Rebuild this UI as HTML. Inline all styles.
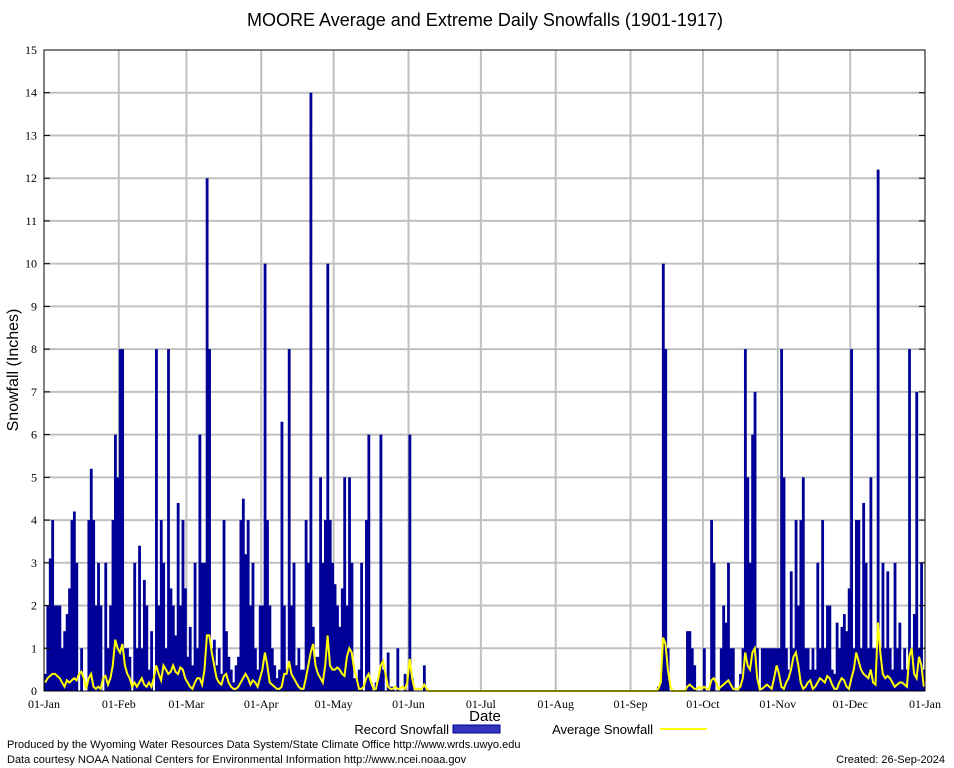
<!DOCTYPE html>
<html><head><meta charset="utf-8"><style>
body{margin:0;background:#fff;width:954px;height:768px;overflow:hidden}
svg{display:block}
text{font-family:"Liberation Sans",sans-serif}
.t{font-family:"Liberation Serif",serif;font-size:12px}
</style></head><body>
<svg id="c" width="954" height="768"></svg>
<script>
const monthLabels=["01-Jan","01-Feb","01-Mar","01-Apr","01-May","01-Jun","01-Jul","01-Aug","01-Sep","01-Oct","01-Nov","01-Dec","01-Jan"];
const monthStartDays=[0,31,59,90,120,151,181,212,243,273,304,334,365];
const yTicks=[0,1,2,3,4,5,6,7,8,9,10,11,12,13,14,15];
const recordJan=[0.4,2,3.1,4,2,2,2,1,1.4,1.8,2.4,4,4.2,3,0,1,0,0,4,5.2,4,2,3,2,0,3,1,2,4,6,5];
const recordFeb=[8,8,1,1,0.8,0,3,1,3.4,1,2.6,2,0.5,1.4,0,8,2,4,3,1,8,2.4,2,1.3,4.4,2,4,2.4];
const recordMar=[0.8,1.5,0.6,3,1,6,3,3,12,8,1,1.2,0.6,1,0.4,4,1.4,0.8,0.5,0.2,0.6,0.8,4,4.5,3.2,4,2,3,1,0.5,2];
const recordApr=[2,10,4,2,1,0.6,0.3,0.5,6.3,2,0.5,8,2,3,0.6,1,0.5,0.5,4,3,14,1.5,0.8,0.8,5,3,4,10,4,3];
const recordMay=[2.5,2,1.5,2.4,5,2,5,3,0.3,0.3,0.5,3,0,4,6,0.2,0,0.2,0.3,6,0.5,0,0.9,0.1,0.1,0,1,0,0,0.4,0];
const recordJun=[6,0.3,0,0,0,0,0.6,0,0,0,0,0,0,0,0,0,0,0,0,0,0,0,0,0,0,0,0,0,0,0];
const recordJul=[0,0,0,0,0,0,0,0,0,0,0,0,0,0,0,0,0,0,0,0,0,0,0,0,0,0,0,0,0,0,0];
const recordAug=[0,0,0,0,0,0,0,0,0,0,0,0,0,0,0,0,0,0,0,0,0,0,0,0,0,0,0,0,0,0,0];
const recordSep=[0,0,0,0,0,0,0,0,0,0,0,0.1,0.2,10,8,1,0,0,0,0,0,0,0,1.4,1.4,1,0.6,0,0,0];
const recordOct=[1,0,0,4,3,0,0,1,2,1.6,3,1,1,0,0,0.4,1,8,5,3,6,7,1,0,1,1,1,1,1,1,1];
const recordNov=[1,8,5,1,0.5,2.8,1,4,2,4,5,1,1,0.5,1,0.5,3,1,4,1,2,2,0.5,0.4,1.6,1,1.5,1.8,1.4,2.4];
const recordDec=[8,1,4,4,1,4.4,3,1,5,1,1,12.2,1,3,1,2.8,1,0.5,3,1,1.6,0.5,1,0.5,8,1,1.8,7,1,3,0.5];
const avgJan=[0.2,0.3,0.35,0.4,0.4,0.35,0.3,0.2,0.1,0.25,0.2,0.25,0.3,0.25,0.4,0.45,0.3,0.05,0.3,0.4,0.1,0.05,0.1,0.05,0.3,0.35,0.15,0.3,0.6,1.2,1.0];
const avgFeb=[0.9,1.1,0.6,0.4,0.3,0.1,0.2,0.1,0.2,0.3,0.15,0.1,0.2,0.1,0.3,0.6,0.4,0.25,0.6,0.5,0.4,0.45,0.6,0.45,0.4,0.55,0.5,0.3];
const avgMar=[0.2,0.1,0.05,0.2,0.3,0.3,0.15,0.5,1.3,1.3,0.9,0.6,0.3,0.2,0.15,0.35,0.4,0.2,0.1,0.05,0.05,0.1,0.2,0.3,0.4,0.3,0.15,0.25,0.2,0.1,0.3];
const avgApr=[0.5,0.9,0.6,0.2,0.15,0.1,0.05,0.05,0.1,0.4,0.4,0.7,0.4,0.3,0.2,0.1,0.05,0.05,0.3,0.6,0.9,1.1,0.6,0.4,0.3,0.2,0.6,1.3,0.6,0.5];
const avgMay=[0.5,0.55,0.5,0.4,0.35,0.8,1.0,0.9,0.5,0.3,0.05,0.05,0.1,0.3,0.4,0.2,0.05,0.05,0.3,0.6,0.7,0.4,0.1,0.05,0.05,0.1,0.05,0.05,0.1,0.05,0.2];
const avgJun=[0.75,0.3,0.05,0.05,0.05,0.05,0.15,0.05,0,0,0,0,0,0,0,0,0,0,0,0,0,0,0,0,0,0,0,0,0,0];
const avgJul=[0,0,0,0,0,0,0,0,0,0,0,0,0,0,0,0,0,0,0,0,0,0,0,0,0,0,0,0,0,0,0];
const avgAug=[0,0,0,0,0,0,0,0,0,0,0,0,0,0,0,0,0,0,0,0,0,0,0,0,0,0,0,0,0,0,0];
const avgSep=[0,0,0,0,0,0,0,0,0,0,0,0.05,0.2,1.25,1.1,0.5,0.1,0,0,0,0,0,0,0.1,0.15,0.1,0.05,0.05,0.1,0.05];
const avgOct=[0.1,0.05,0.05,0.25,0.3,0.2,0.05,0.1,0.15,0.2,0.25,0.15,0.05,0.05,0.05,0.1,0.3,0.9,0.6,0.5,0.9,1.0,0.3,0.05,0.05,0.1,0.15,0.1,0.05,0.3,0.6];
const avgNov=[0.4,0.1,0.05,0.2,0.3,0.5,0.8,0.9,0.6,0.2,0.05,0.1,0.2,0.25,0.05,0.1,0.2,0.3,0.25,0.2,0.35,0.3,0.15,0.05,0.05,0.2,0.3,0.25,0.1,0.05];
const avgDec=[0.3,0.5,0.9,0.7,0.5,0.4,0.35,0.3,0.5,0.2,0.15,1.6,0.9,0.4,0.3,0.35,0.3,0.2,0.1,0.15,0.2,0.2,0.15,0.1,0.8,1.0,0.4,0.3,0.8,0.6,0.1];

const record=[].concat(recordJan,recordFeb,recordMar,recordApr,recordMay,recordJun,recordJul,recordAug,recordSep,recordOct,recordNov,recordDec);
const average=[].concat(avgJan,avgFeb,avgMar,avgApr,avgMay,avgJun,avgJul,avgAug,avgSep,avgOct,avgNov,avgDec);

const NS="http://www.w3.org/2000/svg";
const svg=document.getElementById('c');
const X0=44,X1=925,Y0=691,Y1=50;
function xs(d){return X0+(X1-X0)*d/365;}
function ys(v){return Y0-(Y0-Y1)*v/15;}
function mk(tag,attrs,parent){const e=document.createElementNS(NS,tag);for(const k in attrs)e.setAttribute(k,attrs[k]);(parent||svg).appendChild(e);return e;}

let t=mk('text',{x:485,y:26,'text-anchor':'middle','font-size':'18'});
t.textContent="MOORE Average and Extreme Daily Snowfalls (1901-1917)";



const grid=mk('g',{});


yTicks.forEach(v=>{if(v>0&&v<15){const l=mk('line',{x1:X0,x2:X1,y1:ys(v),y2:ys(v),stroke:'#c0c0c0','stroke-width':2},grid);

}});
monthStartDays.forEach(d=>{if(d>0&&d<365){const l=mk('line',{x1:xs(d),x2:xs(d),y1:Y1,y2:Y0,stroke:'#c0c0c0','stroke-width':2},grid);

}});

const bars=mk('g',{});


const bw=(X1-X0)/365;
record.forEach((v,i)=>{if(v>0){const r=mk('rect',{x:xs(i),y:ys(v),width:bw+0.4,height:Y0-ys(v),fill:'#000099'},bars);

}});

let pts=average.map((v,i)=>xs(i+0.5).toFixed(1)+','+ys(v).toFixed(1)).join(' ');
const pl=mk('polyline',{points:pts,fill:'none',stroke:'#ffff00','stroke-width':2});



const fr=mk('rect',{x:X0,y:Y1,width:X1-X0,height:Y0-Y1,fill:'none',stroke:'#000','stroke-width':1});



yTicks.forEach(v=>{
  mk('line',{x1:X0,x2:X0+6,y1:ys(v),y2:ys(v),stroke:'#000'});
  mk('line',{x1:X1-6,x2:X1,y1:ys(v),y2:ys(v),stroke:'#000'});
  const tx=mk('text',{x:37,y:ys(v)+4,'text-anchor':'end',class:'t'});
  tx.textContent=v;
  
  
});
monthStartDays.forEach((d,i)=>{
  const tx=mk('text',{x:xs(d),y:708,'text-anchor':'middle',class:'t'});
  tx.textContent=monthLabels[i];
  
  
});
let yt=mk('text',{x:18,y:370,'text-anchor':'middle','font-size':'16',transform:'rotate(-90 18 370)'});
yt.textContent="Snowfall (Inches)";


let xt=mk('text',{x:485,y:721,'text-anchor':'middle','font-size':'15'});
xt.textContent="Date";



const lg=mk('g',{});


let l1=mk('text',{x:449,y:734,'text-anchor':'end','font-size':'13'},lg);
l1.textContent="Record Snowfall";


let s1=mk('rect',{x:453,y:725,width:47,height:8,fill:'#3333bb',stroke:'#000099'},lg);


let l2=mk('text',{x:653,y:734,'text-anchor':'end','font-size':'13'},lg);
l2.textContent="Average Snowfall";


let s2=mk('line',{x1:660,x2:707,y1:729,y2:729,stroke:'#ffff00','stroke-width':2},lg);



let f1=mk('text',{x:7,y:748,'font-size':'11'});
f1.textContent="Produced by the Wyoming Water Resources Data System/State Climate Office http://www.wrds.uwyo.edu";


let f2=mk('text',{x:7,y:763,'font-size':'11'});
f2.textContent="Data courtesy NOAA National Centers for Environmental Information http://www.ncei.noaa.gov";


let f3=mk('text',{x:945,y:763,'font-size':'11','text-anchor':'end'});
f3.textContent="Created:  26-Sep-2024";


</script>
</body></html>
